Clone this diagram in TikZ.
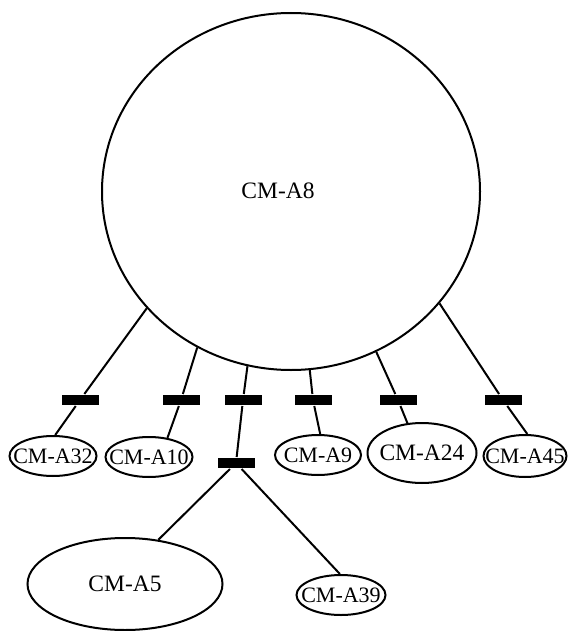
\documentclass[tikz,border=0pt]{standalone}
\usepackage{fontspec}
\setmainfont{Liberation Serif}
\usetikzlibrary{shapes.geometric}
\begin{document}
\begin{tikzpicture}[x=1pt, y=-1pt, line width=2pt,
    font={\fontsize{22}{26}\selectfont},
    ell/.style={draw, ellipse, inner sep=0pt},
    bar/.style={fill=black, draw=none, minimum width=37pt, minimum height=10pt, inner sep=0pt}]
    \useasboundingbox (0,0) rectangle (570,631);
    %big one on top
    \node[ell, minimum width=378pt, minimum height=357pt] (a8) at (291,191.5) {};
    \draw node (a8lbl) at (278,191) {\fontsize{23.5}{28}\selectfont CM-A8};

    %bars
    \node[bar] (b1) at (80,400) {};
    \node[bar] (b2) at (181,400) {};
    \node[bar] (b3) at (243,400) {};
    \node[bar] (b4) at (313,400) {};
    \node[bar] (b5) at (398,400) {};
    \node[bar] (b6) at (503,400) {};
    \node[bar] (b7) at (236,463) {};

    %leaves
    \node[ell, minimum width=87pt, minimum height=40pt] (a32) at (53,456) {\makebox[0pt]{CM-A32}};
    \node[ell, minimum width=87pt, minimum height=40pt] (a10) at (149,457) {\makebox[0pt]{CM-A10}};
    \node[ell, minimum width=86pt, minimum height=40pt] (a9) at (318,455) {\makebox[0pt]{CM-A9}};
    \node[ell, minimum width=109pt, minimum height=60pt] (a24) at (422,453) {\makebox[0pt]{\fontsize{23.5}{28}\selectfont CM-A24}};
    \node[ell, minimum width=83pt, minimum height=42pt] (a45) at (525,456) {\makebox[0pt]{CM-A45}};
    \node[ell, minimum width=195pt, minimum height=92pt] (a5) at (125,584) {\makebox[0pt]{\fontsize{23.5}{28}\selectfont CM-A5}};
    \node[ell, minimum width=89pt, minimum height=40pt] (a39) at (341,595) {\makebox[0pt]{CM-A39}};

    %links
    \draw (a8.219.6) -- (b1) -- (a32.84);
    \draw (a8.239.3) -- (b2) -- (a10.46.5);
    \draw (a8.256.8) -- (b3) -- (b7);
    \draw (a8.276.1) -- (b4) -- (a9.84);
    \draw (a8.298.5) -- (b5) -- (a24.116.6);
    \draw (a8.323.4) -- (b6) -- (a45.84);
    \draw (b7) -- (a5.53.7);
    \draw (b7) -- (a39.93);
\end{tikzpicture}
\end{document}
